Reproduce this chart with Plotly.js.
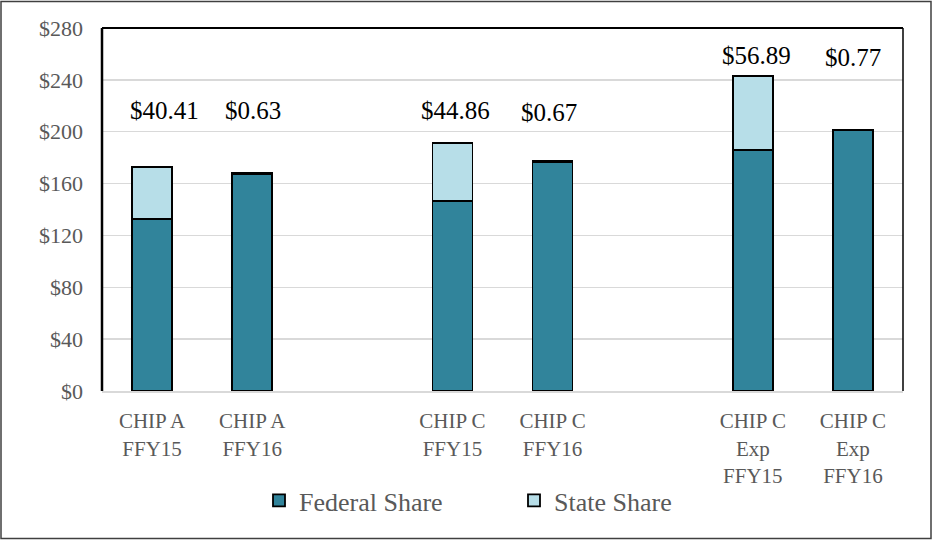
<!DOCTYPE html>
<html><head><meta charset="utf-8">
<script src="https://cdn.plot.ly/plotly-3.0.1.min.js"></script>
<style>body{margin:0;background:#fff}#chart{width:933px;height:540px}</style>
</head><body><div id="chart"></div>
<script>
const categories = ["CHIP A<br>FFY15", "CHIP A<br>FFY16", " ", "CHIP C<br>FFY15", "CHIP C<br>FFY16", "  ", "CHIP C<br>Exp<br>FFY15", "CHIP C<br>Exp<br>FFY16"];
const barCategories = ["CHIP A<br>FFY15", "CHIP A<br>FFY16", "CHIP C<br>FFY15", "CHIP C<br>FFY16", "CHIP C<br>Exp<br>FFY15", "CHIP C<br>Exp<br>FFY16"];
const federalShare = [132.5, 167.6, 146.4, 176.8, 185.8, 200.9];
const stateShare = [40.41, 0.63, 44.86, 0.67, 56.89, 0.77];
const labelY = [216, 216, 216, 214.5, 259, 257.5];
const labelXShift = [12, 1, 3, -4, 4, 0];
const yTickVals = [0, 40, 80, 120, 160, 200, 240, 280];
const yTickText = ["$0", "$40", "$80", "$120", "$160", "$200", "$240", "$280"];

const W = 933, H = 540, mL = 102, mR = 30, mT = 28, mB = 149;
const pw = W - mL - mR, ph = H - mT - mB;
const px = x => (x - mL) / pw;
const py = y => (H - mB - y) / ph;

const font = "'Liberation Serif', 'Times New Roman', serif";
const traces = [
  {type: "bar", name: "Federal Share", x: barCategories, y: federalShare,
   marker: {color: "#31849B", line: {color: "#000", width: 1.8}}, width: 0.4},
  {type: "bar", name: "State Share", x: barCategories, y: stateShare,
   marker: {color: "#B7DEE8", line: {color: "#000", width: 1.8}}, width: 0.4}
];
const annotations = barCategories.map((c, i) => ({
  x: c, y: labelY[i], xref: "x", yref: "y", xshift: labelXShift[i], text: "$" + stateShare[i].toFixed(2),
  showarrow: false, font: {family: font, size: 25, color: "#000"}, yanchor: "middle"
}));
const layout = {
  width: W, height: H, barmode: "stack", showlegend: true,
  margin: {l: mL, r: mR, t: mT, b: mB, pad: 0},
  paper_bgcolor: "#fff", plot_bgcolor: "#fff",
  font: {family: font, color: "#595959"},
  xaxis: {type: "category", categoryorder: "array", categoryarray: categories,
    range: [-0.5, 7.5], showgrid: false, showline: true, linecolor: "#d9d9d9", linewidth: 2,
    ticks: "", ticklabelstandoff: 10, tickfont: {family: font, size: 21, color: "#595959"}, fixedrange: true},
  yaxis: {range: [0, 280], tickvals: yTickVals, ticktext: yTickText,
    showgrid: true, gridcolor: "#d9d9d9", gridwidth: 1.5, zeroline: false, showline: false,
    ticks: "", ticklen: 0, ticklabelstandoff: 18, tickfont: {family: font, size: 22, color: "#595959"}},
  legend: {orientation: "h", x: px(259), xanchor: "left", y: py(477), yanchor: "top",
    bgcolor: "rgba(0,0,0,0)", font: {family: font, size: 26, color: "#595959"}, entrywidth: 210, traceorder: "normal"},
  annotations: annotations,
  shapes: [
    {type: "line", xref: "paper", yref: "paper", x0: 0, x1: 0, y0: 0, y1: 1, line: {color: "#000", width: 2.5}},
    {type: "line", xref: "paper", yref: "paper", x0: 0, x1: 1, y0: 1, y1: 1, line: {color: "#000", width: 2}},
    {type: "line", xref: "paper", yref: "paper", x0: 1, x1: 1, y0: 0, y1: 1, line: {color: "#000", width: 1.5}},
    {type: "rect", xref: "paper", yref: "paper", x0: px(1), x1: px(931), y0: py(538.5), y1: py(1.5),
     line: {color: "#404040", width: 1.5}}
  ]
};
Plotly.newPlot("chart", traces, layout, {displayModeBar: false, staticPlot: true});
</script></body></html>
